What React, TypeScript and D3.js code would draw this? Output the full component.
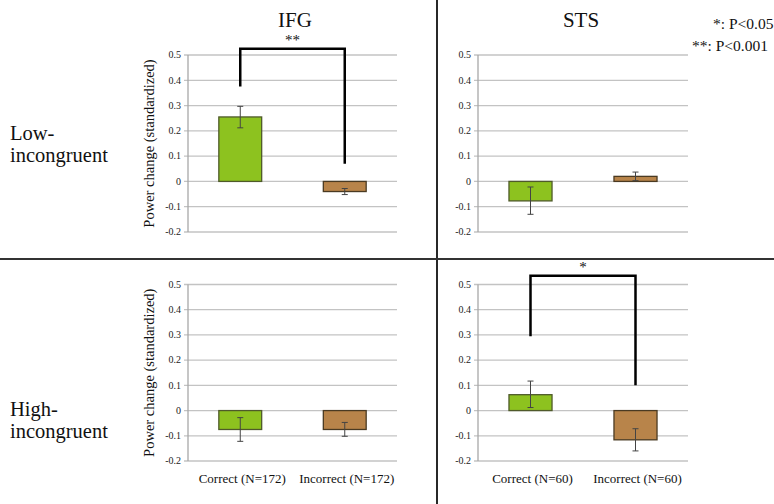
import React from "react";
import * as d3 from "d3";

const regions = ["IFG", "STS"];
const conditions = ["Low-\nincongruent", "High-\nincongruent"];
const catsIFG = ["Correct (N=172)", "Incorrect (N=172)"];
const catsSTS = ["Correct (N=60)", "Incorrect (N=60)"];
const yTicks = [-0.2, -0.1, 0, 0.1, 0.2, 0.3, 0.4, 0.5];
const tickLabels = ["-0.2", "-0.1", "0", "0.1", "0.2", "0.3", "0.4", "0.5"];

const lowIFG = [0.255, -0.04];
const lowIFGErr = [[0.212, 0.297], [-0.052, -0.028]];
const lowSTS = [-0.077, 0.02];
const lowSTSErr = [[-0.13, -0.022], [0.003, 0.037]];
const highIFG = [-0.075, -0.075];
const highIFGErr = [[-0.122, -0.028], [-0.102, -0.047]];
const highSTS = [0.063, -0.116];
const highSTSErr = [[0.012, 0.117], [-0.16, -0.072]];

// brackets: [top, leftLegEnd, rightLegEnd]
const bracketLowIFG = [0.525, 0.375, 0.07];
const bracketHighSTS = [0.535, 0.295, 0.1];

const legend = ["*: P<0.05", "**: P<0.001"];
const yLabel = "Power change (standardized)";

const barColors = ["#8DC21F", "#B8844A"];
const barStroke = ["#4f5a2a", "#4a3a22"];
const font = "Liberation Serif, Times New Roman, Times, serif";

type PanelProps = {
  x0: number; x1: number; yTop: number; yBot: number;
  cats: string[]; values: number[]; errs: number[][];
  showCats: boolean; showYLabel: boolean;
  bracket?: number[]; star?: string;
};

function Panel(p: PanelProps) {
  const y = d3.scaleLinear().domain([-0.2, 0.5]).range([p.yBot, p.yTop]);
  const x = d3.scaleBand().domain(p.cats).range([p.x0, p.x1]).paddingInner(0.59).paddingOuter(0.295);
  const bw = x.bandwidth();
  return (
    <g>
      {yTicks.map((t, i) => (
        <g key={i}>
          <line x1={p.x0 - 4} x2={p.x1} y1={y(t)} y2={y(t)} stroke="#c3c3c3" strokeWidth={1.3} />
          <text x={p.x0 - 7} y={y(t)} dy="0.33em" textAnchor="end" style={{ fontFamily: font, fontSize: 10 }} fill="#222">{tickLabels[i]}</text>
        </g>
      ))}
      <line x1={p.x0} x2={p.x0} y1={y(0.5)} y2={y(-0.2)} stroke="#a8a8a8" strokeWidth={1.3} />
      {p.values.map((v, i) => {
        const c = p.cats[i];
        const bx = x(c)!;
        const cx = bx + bw / 2;
        const [lo, hi] = p.errs[i];
        return (
          <g key={c}>
            <rect x={bx} width={bw} y={Math.min(y(v), y(0))} height={Math.abs(y(v) - y(0))}
              fill={barColors[i]} stroke={barStroke[i]} strokeWidth={1.3} />
            <line x1={cx} x2={cx} y1={y(lo)} y2={y(hi)} stroke="#444" strokeWidth={1} />
            <line x1={cx - 3} x2={cx + 3} y1={y(lo)} y2={y(lo)} stroke="#444" strokeWidth={1} />
            <line x1={cx - 3} x2={cx + 3} y1={y(hi)} y2={y(hi)} stroke="#444" strokeWidth={1} />
          </g>
        );
      })}
      {p.showCats && p.cats.map((c) => (
        <text key={c} x={x(c)! + bw / 2 + 2} y={p.yBot + 22} textAnchor="middle" style={{ fontFamily: font, fontSize: 13 }} fill="#111">{c}</text>
      ))}
      {p.showYLabel && (
        <text transform={`translate(${p.x0 - 39},${(p.yTop + p.yBot) / 2}) rotate(-90)`} dy="0.35em"
          textAnchor="middle" style={{ fontFamily: font, fontSize: 14.5 }} fill="#111">{yLabel}</text>
      )}
      {p.bracket && (() => {
        const lx = x(p.cats[0])! + bw / 2;
        const rx = x(p.cats[1])! + bw / 2;
        const [top, l, r] = p.bracket;
        return (
          <g>
            <path d={`M${lx},${y(l)} L${lx},${y(top)} L${rx},${y(top)} L${rx},${y(r)}`} fill="none" stroke="#000" strokeWidth={2.5} />
            <text x={(lx + rx) / 2} y={y(top) - 4} textAnchor="middle" style={{ fontFamily: font, fontSize: 15 }} fill="#111">{p.star}</text>
          </g>
        );
      })()}
    </g>
  );
}

export default function App() {
  const W = 774, H = 504;
  const cols = [{ x0: 188, x1: 397 }, { x0: 478, x1: 688 }];
  const rows = [{ yTop: 55, yBot: 232 }, { yTop: 284.5, yBot: 461 }];
  return (
    <svg width={W} height={H} style={{ position: "absolute", left: 0, top: 0, background: "#fff", fontFamily: font }}>
      <rect width={W} height={H} fill="#fff" />
      <line x1={437} x2={437} y1={0} y2={H} stroke="#111" strokeWidth={1.8} />
      <line x1={0} x2={W} y1={259} y2={259} stroke="#333" strokeWidth={2} />
      {regions.map((r, i) => (
        <text key={r} x={i === 0 ? 295 : 581} y={27} textAnchor="middle" style={{ fontFamily: font, fontSize: 21 }} fill="#111">{r}</text>
      ))}
      {legend.map((l, i) => (
        <text key={l} x={i === 0 ? 713 : 692} y={i === 0 ? 29 : 51} style={{ fontFamily: font, fontSize: 15.5 }} fill="#111">{l}</text>
      ))}
      {conditions.map((c, i) =>
        c.split("\n").map((s, j) => (
          <text key={`${i}-${j}`} x={10} y={(i === 0 ? 140 : 416) + j * 21.5} style={{ fontFamily: font, fontSize: 20.5 }} fill="#111">{s}</text>
        ))
      )}
      <Panel {...cols[0]} {...rows[0]} cats={catsIFG} values={lowIFG} errs={lowIFGErr} showCats={false} showYLabel={true} bracket={bracketLowIFG} star="**" />
      <Panel {...cols[1]} {...rows[0]} cats={catsSTS} values={lowSTS} errs={lowSTSErr} showCats={false} showYLabel={false} />
      <Panel {...cols[0]} {...rows[1]} cats={catsIFG} values={highIFG} errs={highIFGErr} showCats={true} showYLabel={true} />
      <Panel {...cols[1]} {...rows[1]} cats={catsSTS} values={highSTS} errs={highSTSErr} showCats={true} showYLabel={false} bracket={bracketHighSTS} star="*" />
    </svg>
  );
}
